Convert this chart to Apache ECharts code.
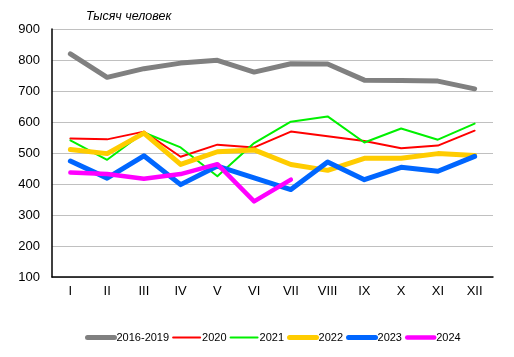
<!DOCTYPE html>
<html><head><meta charset="utf-8">
<script src="https://cdn.jsdelivr.net/npm/echarts@6/dist/echarts.min.js"></script>
<style>html,body{margin:0;padding:0;background:#fff}#c{width:514px;height:357px}</style>
</head><body><div id="c"></div>
<script>
const categories = ['I','II','III','IV','V','VI','VII','VIII','IX','X','XI','XII'];
const yTicks = [100,200,300,400,500,600,700,800,900];
const s2016_2019 = [820,744,772,790,799,761,788,787,735,734,732,707];
const s2020 = [547,544,569,488,527,518,569,554,539,515,524,572];
const s2021 = [541,478,566,518,425,532,601,618,534,579,543,595];
const s2022 = [511,498,564,463,504,510,463,444,483,483,498,492];
const s2023 = [474,419,491,398,458,420,382,471,414,454,441,489];
const s2024 = [437,432,417,432,464,344,414];
const names = ['2016-2019','2020','2021','2022','2023','2024'];
const colors = ['#808080','#FF0000','#00F000','#FFCC00','#0066FF','#FF00FF'];
const widths = [5,2,2,5,5,4.5];
const data = [s2016_2019,s2020,s2021,s2022,s2023,s2024];
const chart = echarts.init(document.getElementById('c'));
chart.setOption({
  animation:false,
  title:{text:'Тысяч человек',left:81,top:5,textStyle:{fontFamily:'Liberation Sans',fontStyle:'italic',fontWeight:'normal',fontSize:12.5,color:'#000'}},
  grid:{left:52,right:21,top:29,bottom:80},
  legend:{bottom:9,left:80,itemGap:3,itemWidth:27,itemHeight:10,
    itemStyle:{opacity:0,borderWidth:0},
    textStyle:{fontFamily:'Liberation Sans',fontSize:11,color:'#000',padding:[0,0,0,-3]},
    lineStyle:{width:'inherit',cap:'round',opacity:1},
    data:names},
  xAxis:{type:'category',data:categories,boundaryGap:true,
    axisLine:{lineStyle:{color:'#000',width:1.5}},axisTick:{show:false},
    axisLabel:{fontFamily:'Liberation Sans',fontSize:13,color:'#000',margin:8}},
  yAxis:{type:'value',min:yTicks[0],max:yTicks[yTicks.length-1],interval:100,
    axisLine:{show:true,lineStyle:{color:'#000',width:1.5}},axisTick:{show:false},
    splitLine:{lineStyle:{color:'#C0C0C0',width:1}},
    axisLabel:{fontFamily:'Liberation Sans',fontSize:13,color:'#000',margin:12}},
  series:data.map((d,i)=>({name:names[i],type:'line',data:d,symbol:'none',
    lineStyle:{color:colors[i],width:widths[i],cap:'round',join:'round'},itemStyle:{color:colors[i]},z:i}))
});
</script></body></html>
